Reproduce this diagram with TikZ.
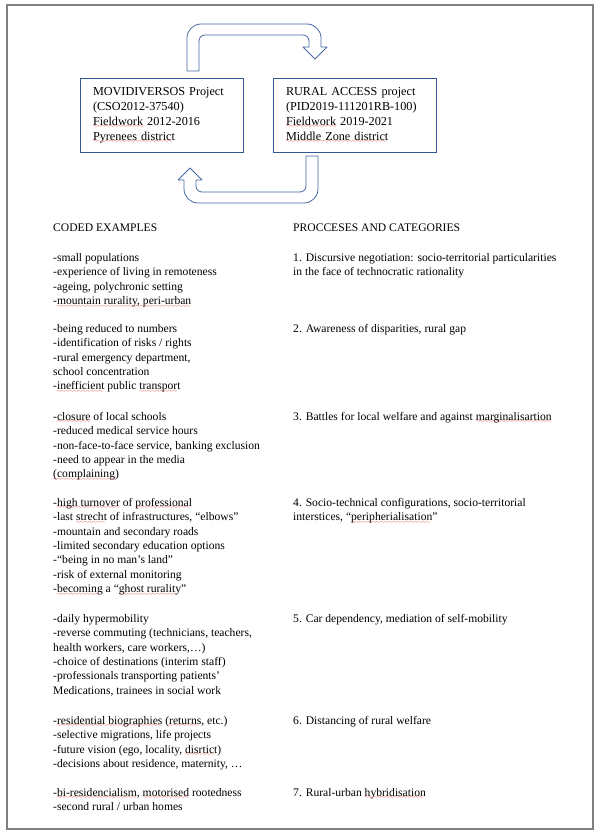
\documentclass[tikz,border=0pt]{standalone}
\usepackage{fontspec}
\setmainfont{Liberation Serif}

\definecolor{boxblue}{RGB}{52,86,146}
\definecolor{arrowblue}{RGB}{72,104,162}
\definecolor{framegray}{RGB}{128,128,128}
\definecolor{spellred}{RGB}{230,0,0}

% red spell-check squiggle under a word
\font\wavefnt=lasy6 at 5pt
\newcommand{\wavy}[1]{\leavevmode\setbox0\hbox{#1}\rlap{\textcolor{spellred}{\lower2.6pt\hbox to\wd0{\leaders\hbox{\wavefnt\char58}\hfill}}}\box0\relax}

\tikzset{
  projbox/.style={draw=boxblue, line width=0.9pt, fill=white, minimum width=163pt,
    minimum height=74pt, text width=137pt, inner xsep=13pt, align=left,
    font=\fontsize{12.2}{15}\selectfont},
  colhead/.style={anchor=north west, inner sep=0pt, font=\fontsize{11.6}{14.4}\selectfont},
  codeblock/.style={anchor=north west, inner sep=0pt, align=left,
    font=\fontsize{11.6}{14.4}\selectfont},
  procblock/.style={codeblock},
  uarrow/.style={draw=arrowblue, line width=0.8pt, fill=white, line join=round},
}

\begin{document}
\begin{tikzpicture}[x=1pt, y=-1pt]

  \useasboundingbox (0,0) rectangle (602,835);

  % Frame
  \draw[framegray, line width=1.4pt] (7,5) rectangle (593,829);

  % Project boxes
  \node[projbox] (movi) at (161.5,115) {MOVIDIVERSOS Project\\(CSO2012-37540)\\\wavy{Fieldwork} 2012-2016\\\wavy{Pyrenees district}};
  \node[projbox] (rural) at (354.5,115) {RURAL ACCESS project\\(PID2019-111201RB-100)\\\wavy{Fieldwork} 2019-2021\\\wavy{Middle Zone district}};

  % U-turn arrows between the projects (y runs downwards here)
  \draw[uarrow] (187,71) -- (187,38) arc[start angle=180, end angle=270, radius=14]
    -- (307,24) arc[start angle=270, end angle=360, radius=14] -- (321,47)
    -- (327,47) -- (315,59) -- (303,47) -- (309,47) -- (309,41)
    arc[start angle=0, end angle=-90, radius=6] -- (205,35)
    arc[start angle=270, end angle=180, radius=6] -- (199,71) -- cycle;
  \draw[uarrow] (306,156) -- (318,156) -- (318,189) arc[start angle=0, end angle=90, radius=14]
    -- (198,203) arc[start angle=90, end angle=180, radius=14] -- (184,180)
    -- (178,180) -- (190,168) -- (202,180) -- (196,180) -- (196,186)
    arc[start angle=180, end angle=90, radius=6] -- (300,192)
    arc[start angle=90, end angle=0, radius=6] -- (306,156) -- cycle;

  % Column headings
  \node[colhead] (codehead) at (53,224) {CODED EXAMPLES};
  \node[colhead] (prochead) at (293,224) {PROCCESES AND CATEGORIES};

  % Coded examples
  \node[codeblock] (code1) at (53,253) {-small populations\\-experience of living in remoteness\\-ageing, polychronic setting\\-\wavy{mountain rurality, peri-urban}};
  \node[codeblock] (code2) at (53,324) {-being reduced to numbers\\-identification of risks / rights\\-rural emergency department,\\school concentration\\-\wavy{inefficient} public \wavy{transport}};
  \node[codeblock] (code3) at (53,412) {-\wavy{closure} of local schools\\-reduced medical service hours\\-non-face-to-face service, banking exclusion\\-need to appear in the media\\\wavy{(complaining)}};
  \node[codeblock] (code4) at (53,498) {-\wavy{high turnover} of \wavy{professional}\\-last \wavy{strecht} of infrastructures, ``elbows''\\-mountain and secondary roads\\-limited secondary education options\\-``being in no man’s land''\\-risk of external monitoring\\-\wavy{becoming} a ``\wavy{ghost rurality}''};
  \node[codeblock] (code5) at (53,614) {-daily hypermobility\\-reverse commuting (technicians, teachers,\\health workers, care workers,…)\\-choice of destinations (interim staff)\\-professionals transporting patients’\\Medications, trainees in social work};
  \node[codeblock] (code6) at (53,716) {-\wavy{residential biographies} (\wavy{returns}, etc.)\\-selective migrations, life projects\\-future vision (ego, locality, \wavy{disrtict})\\-decisions about residence, maternity, …};
  \node[codeblock] (code7) at (53,788) {-\wavy{bi-residencialism}, \wavy{motorised} rootedness\\-second rural / urban homes};

  % Processes and categories
  \node[procblock] (proc1) at (293,253) {1. Discursive negotiation: socio-territorial particularities\\in the face of technocratic rationality};
  \node[procblock] (proc2) at (293,324) {2. Awareness of disparities, rural gap};
  \node[procblock] (proc3) at (293,412) {3. Battles for local welfare and against \wavy{marginalisartion}};
  \node[procblock] (proc4) at (293,498) {4. Socio-technical configurations, socio-territorial\\interstices, ``\wavy{peripherialisation}''};
  \node[procblock] (proc5) at (293,614) {5. Car dependency, mediation of self-mobility};
  \node[procblock] (proc6) at (293,716) {6. Distancing of rural welfare};
  \node[procblock] (proc7) at (293,788) {7. Rural-urban \wavy{hybridisation}};

\end{tikzpicture}
\end{document}
